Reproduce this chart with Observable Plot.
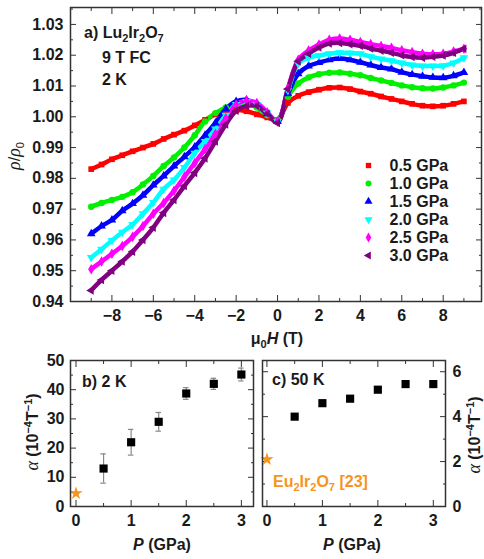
<!DOCTYPE html>
<html><head><meta charset="utf-8">
<script src="https://cdn.jsdelivr.net/npm/d3@7"></script>
<script src="https://cdn.jsdelivr.net/npm/@observablehq/plot@0.6"></script>
<style>
body{margin:0;background:#fff;}
#wrap{position:relative;width:484px;height:559px;overflow:hidden;font-family:"Liberation Sans",Arial,sans-serif;}
#wrap svg{position:absolute;}
</style></head><body><div id="wrap"></div>
<script>
// ---------- data ----------
const fieldT = [-9,-8.5,-8,-7.5,-7,-6.5,-6,-5.5,-5,-4.5,-4,-3.5,-3,-2.5,-2,-1.5,-1,-0.5,0,0.5,1,1.5,2,2.5,3,3.5,4,4.5,5,5.5,6,6.5,7,7.5,8,8.5,9];
const pressureLabels = ["0.5 GPa","1.0 GPa","1.5 GPa","2.0 GPa","2.5 GPa","3.0 GPa"];
const seriesColors = ["#ff0000","#00f000","#0000ff","#00ffff","#ff00ff","#800080"];
const rho05 = [0.9830,0.9845,0.9862,0.9875,0.9888,0.9900,0.9912,0.9928,0.9942,0.9955,0.9972,0.9990,1.0008,1.0018,1.0022,1.0018,1.0008,0.9998,0.9990,1.0045,1.0068,1.0080,1.0088,1.0094,1.0095,1.0090,1.0082,1.0075,1.0066,1.0058,1.0050,1.0042,1.0036,1.0034,1.0036,1.0042,1.0050];
const rho10 = [0.9708,0.9720,0.9730,0.9740,0.9755,0.9780,0.9808,0.9840,0.9868,0.9900,0.9940,0.9985,1.0012,1.0030,1.0042,1.0042,1.0030,1.0005,0.9990,1.0065,1.0108,1.0128,1.0138,1.0143,1.0144,1.0140,1.0135,1.0126,1.0118,1.0110,1.0102,1.0096,1.0093,1.0092,1.0095,1.0102,1.0111];
const rho15 = [0.9620,0.9645,0.9665,0.9695,0.9718,0.9745,0.9778,0.9808,0.9840,0.9870,0.9902,0.9940,0.9980,1.0025,1.0050,1.0055,1.0040,1.0010,0.9985,1.0075,1.0140,1.0165,1.0176,1.0185,1.0189,1.0185,1.0177,1.0168,1.0160,1.0155,1.0145,1.0137,1.0132,1.0128,1.0127,1.0133,1.0144];
const rho20 = [0.9543,0.9570,0.9598,0.9625,0.9650,0.9685,0.9722,0.9765,0.9795,0.9835,0.9882,0.9920,0.9960,1.0005,1.0040,1.0050,1.0040,1.0012,0.9985,1.0085,1.0172,1.0192,1.0199,1.0205,1.0208,1.0207,1.0205,1.0195,1.0188,1.0182,1.0175,1.0168,1.0165,1.0165,1.0166,1.0175,1.0192];
const rho25 = [0.9505,0.9530,0.9555,0.9580,0.9610,0.9645,0.9685,0.9720,0.9760,0.9805,0.9850,0.9895,0.9945,0.9995,1.0040,1.0052,1.0045,1.0015,0.9985,1.0092,1.0185,1.0215,1.0235,1.0250,1.0254,1.0250,1.0243,1.0236,1.0230,1.0224,1.0216,1.0210,1.0205,1.0203,1.0205,1.0212,1.0221];
const rho30 = [0.9436,0.9470,0.9500,0.9530,0.9562,0.9600,0.9640,0.9688,0.9730,0.9775,0.9818,0.9865,0.9920,0.9975,1.0020,1.0035,1.0035,1.0010,0.9980,1.0090,1.0180,1.0205,1.0225,1.0238,1.0240,1.0236,1.0231,1.0222,1.0215,1.0208,1.0200,1.0194,1.0192,1.0195,1.0199,1.0208,1.0221];
const rhoSeries = [rho05, rho10, rho15, rho20, rho25, rho30];

const pressures = [0.5, 1.0, 1.5, 2.0, 2.5, 3.0];
const alpha2K = [13, 22, 29, 38.7, 42, 45.2];
const alpha2KErr = [5, 4.4, 3.2, 2, 1.9, 2.2];
const alpha50K = [4.0, 4.6, 4.8, 5.2, 5.45, 5.45];
const alpha50KErr = [0.12, 0.12, 0.12, 0.12, 0.12, 0.12];
const euPressure = [0];
const euAlpha2K = [4.5];
const euAlpha50K = [2.1];

const xTicksA = [-8,-6,-4,-2,0,2,4,6,8];
const xMinorA = [-9,-7,-5,-3,-1,1,3,5,7,9];
const yTicksA = [0.94,0.95,0.96,0.97,0.98,0.99,1.00,1.01,1.02,1.03];
const yMinorA = [0.945,0.955,0.965,0.975,0.985,0.995,1.005,1.015,1.025,1.035];
const pTicks = [0,1,2,3];
const pMinor = [0.5,1.5,2.5];
const yTicksB = [0,10,20,30,40,50];
const yMinorB = [5,15,25,35,45];
const yTicksC = [0,2,4,6];
const yMinorC = [1,3,5];

// ---------- helpers ----------
const S3 = Math.sqrt(3);
const triDown = {draw(c, size){ const y = -Math.sqrt(size/(S3*3)); c.moveTo(0,-2*y); c.lineTo(-S3*y, y); c.lineTo(S3*y, y); c.closePath(); }};
const triLeft = {draw(c, size){ const y = -Math.sqrt(size/(S3*3)); c.moveTo(2*y,0); c.lineTo(-y,-S3*y); c.lineTo(-y,S3*y); c.closePath(); }};
const seriesSymbols = ["square","circle","triangle",triDown,"diamond",triLeft];
const orange = "#f7941d";
const font = "'Liberation Sans', Arial, sans-serif";
const baseStyle = {fontFamily: font, fontSize: "16px", fontWeight: "bold", color: "#1a1a1a", background: "transparent", overflow: "visible"};
const none = () => "";

function boxAxes({xT, xM, yT, yM, xFmt, yFmt, ySide = "left", yPad = 7, xPad = 8}) {
  const m = [];
  for (const anchor of ["bottom","top"]) {
    m.push(Plot.axisX(xT, {anchor, tickSize: -6, tickFormat: none, label: null, stroke: "#333"}));
    m.push(Plot.axisX(xM, {anchor, tickSize: -3, tickFormat: none, label: null, stroke: "#333"}));
  }
  for (const anchor of ["left","right"]) {
    m.push(Plot.axisY(yT, {anchor, tickSize: -6, tickFormat: none, label: null, stroke: "#333"}));
    m.push(Plot.axisY(yM, {anchor, tickSize: -3, tickFormat: none, label: null, stroke: "#333"}));
  }
  m.push(Plot.axisX(xT, {anchor: "bottom", tickSize: 0, tickPadding: xPad, tickFormat: xFmt, label: null}));
  m.push(Plot.axisY(yT, {anchor: ySide, tickSize: 0, tickPadding: yPad, tickFormat: yFmt, label: null}));
  return m;
}

const wrap = document.getElementById("wrap");
function place(el, left, top) { el.style.left = left + "px"; el.style.top = top + "px"; wrap.appendChild(el); }

// ---------- panel a ----------
const rows = rhoSeries.flatMap((s, i) => s.map((v, j) => ({H: fieldT[j], rho: v, label: pressureLabels[i]})));
const plotA = Plot.plot({
  width: 484, height: 350, marginLeft: 70, marginRight: 3, marginTop: 7, marginBottom: 49,
  style: baseStyle,
  x: {domain: [-10, 9.85], label: null},
  y: {domain: [0.94, 1.0355], label: null},
  color: {domain: pressureLabels, range: seriesColors},
  symbol: {domain: pressureLabels, range: seriesSymbols},
  marks: [
    Plot.line(rows, {x: "H", y: "rho", z: "label", stroke: "label", strokeWidth: 4.5, curve: "catmull-rom"}),
    Plot.dot(rows, {x: "H", y: "rho", symbol: "label", fill: "label", r: 3.2}),
    ...boxAxes({xT: xTicksA, xM: xMinorA, yT: yTicksA, yM: yMinorA, xFmt: d => d < 0 ? "\u2212" + (-d) : String(d), yFmt: d => d.toFixed(2), yPad: 7, xPad: 8}),
    Plot.frame({stroke: "#333", strokeWidth: 1.5})
  ]
});
place(plotA, 0, 0);

// legend for panel a
const plotLegend = Plot.plot({
  width: 124, height: 135, marginLeft: 8, marginRight: 0, marginTop: 0, marginBottom: 0,
  style: baseStyle,
  y: {type: "point", domain: pressureLabels, range: [15, 124], axis: null},
  color: {domain: pressureLabels, range: seriesColors},
  symbol: {domain: pressureLabels, range: seriesSymbols},
  marks: [
    Plot.dot(pressureLabels, {y: d => d, frameAnchor: "left", symbol: d => d, fill: d => d, r: 3}),
    Plot.text(pressureLabels, {y: d => d, text: d => d, frameAnchor: "left", dx: 21, textAnchor: "start", fill: "#1a1a1a"})
  ]
});
place(plotLegend, 360, 140);

// ---------- panel b ----------
const dataB = pressures.map((p, i) => ({P: p, a: alpha2K[i], e: alpha2KErr[i]}));
const euB = euPressure.map((p, i) => ({P: p, a: euAlpha2K[i]}));
const plotB = Plot.plot({
  width: 258, height: 209, marginLeft: 70, marginRight: 5, marginTop: 10, marginBottom: 53,
  style: baseStyle,
  x: {domain: [-0.1, 3.22], label: null},
  y: {domain: [0, 50], label: null},
  marks: [
    ...boxAxes({xT: pTicks, xM: pMinor, yT: yTicksB, yM: yMinorB, xFmt: d => String(d), yFmt: d => String(d), yPad: 6, xPad: 8}),
    Plot.ruleX(dataB, {x: "P", y1: d => d.a - d.e, y2: d => d.a + d.e, stroke: "#888", strokeWidth: 1.2}),
    Plot.ruleY(dataB, {y: d => d.a - d.e, x1: d => d.P - 0.05, x2: d => d.P + 0.05, stroke: "#888", strokeWidth: 1.2}),
    Plot.ruleY(dataB, {y: d => d.a + d.e, x1: d => d.P - 0.05, x2: d => d.P + 0.05, stroke: "#888", strokeWidth: 1.2}),
    Plot.dot(dataB, {x: "P", y: "a", symbol: "square", fill: "#000", r: 4.6}),
    Plot.dot(euB, {x: "P", y: "a", symbol: "star", fill: orange, r: 4.2}),
    Plot.frame({stroke: "#333", strokeWidth: 1.5})
  ]
});
place(plotB, 0, 350);

// ---------- panel c ----------
const dataC = pressures.map((p, i) => ({P: p, a: alpha50K[i], e: alpha50KErr[i]}));
const euC = euPressure.map((p, i) => ({P: p, a: euAlpha50K[i]}));
const plotC = Plot.plot({
  width: 226, height: 209, marginLeft: 4, marginRight: 39, marginTop: 10, marginBottom: 53,
  style: baseStyle,
  x: {domain: [-0.08, 3.22], label: null},
  y: {domain: [0, 6.5], label: null},
  marks: [
    ...boxAxes({xT: pTicks, xM: pMinor, yT: yTicksC, yM: yMinorC, xFmt: d => String(d), yFmt: d => String(d), ySide: "right", yPad: 7, xPad: 8}),
    Plot.ruleX(dataC, {x: "P", y1: d => d.a - d.e, y2: d => d.a + d.e, stroke: "#888", strokeWidth: 1.2}),
    Plot.ruleY(dataC, {y: d => d.a - d.e, x1: d => d.P - 0.05, x2: d => d.P + 0.05, stroke: "#888", strokeWidth: 1.2}),
    Plot.ruleY(dataC, {y: d => d.a + d.e, x1: d => d.P - 0.05, x2: d => d.P + 0.05, stroke: "#888", strokeWidth: 1.2}),
    Plot.dot(dataC, {x: "P", y: "a", symbol: "square", fill: "#000", r: 4.6}),
    Plot.dot(euC, {x: "P", y: "a", symbol: "star", fill: orange, r: 4.2}),
    Plot.frame({stroke: "#333", strokeWidth: 1.5})
  ]
});
place(plotC, 258, 350);

// ---------- rich text labels (subscripts, italics) ----------
const ns = "http://www.w3.org/2000/svg";
const over = document.createElementNS(ns, "svg");
over.setAttribute("width", 484); over.setAttribute("height", 559);
over.style.left = "0px"; over.style.top = "0px"; over.style.overflow = "visible";
over.setAttribute("font-family", font);
over.setAttribute("font-weight", "bold");
over.setAttribute("font-size", "16");
over.setAttribute("fill", "#1a1a1a");
// sub(t, next): subscript t, then return to the baseline with text next
const sub = (t, next = "") => `<tspan dy="4" font-size="11">${t}</tspan>` + (next ? `<tspan dy="-4">${next}</tspan>` : "");
const sup = (t, next = "") => `<tspan dy="-6" font-size="11">${t}</tspan>` + (next ? `<tspan dy="6">${next}</tspan>` : "");
const greek = (t) => `<tspan font-family="'Liberation Serif', serif" font-style="italic" font-weight="normal" font-size="18">${t}</tspan>`;
const formula = (a, b) => `${a}${sub("2", "Ir")}${sub("2", "O")}${sub("7", b)}`;
const alphaLabel = `${greek("α")}<tspan> (10</tspan>${sup("\u22124", "T")}${sup("\u22121", ")")}`;
over.innerHTML = `
  <text x="84" y="38">a) ${formula("Lu", "")}</text>
  <text x="102" y="63">9 T FC</text>
  <text x="102" y="85">2 K</text>
  <text transform="translate(20,156) rotate(-90)" text-anchor="middle">${greek("ρ")}<tspan font-weight="normal">/</tspan>${greek("ρ")}<tspan dy="4" font-size="11" font-weight="normal">0</tspan></text>
  <text x="277" y="344" text-anchor="middle">μ${sub("0", "")}<tspan dy="-4" font-style="italic">H</tspan><tspan> (T)</tspan></text>
  <text x="82" y="387">b) 2 K</text>
  <text x="272" y="385">c) 50 K</text>
  <text x="273" y="487" fill="${orange}">${formula("Eu", " [23]")}</text>
  <text transform="translate(38,432) rotate(-90)" text-anchor="middle">${alphaLabel}</text>
  <text transform="translate(480,435) rotate(-90)" text-anchor="middle">${alphaLabel}</text>
  <text x="162" y="550" text-anchor="middle"><tspan font-style="italic">P</tspan> (GPa)</text>
  <text x="352" y="550" text-anchor="middle"><tspan font-style="italic">P</tspan> (GPa)</text>
`;
wrap.appendChild(over);
</script>
</body></html>
